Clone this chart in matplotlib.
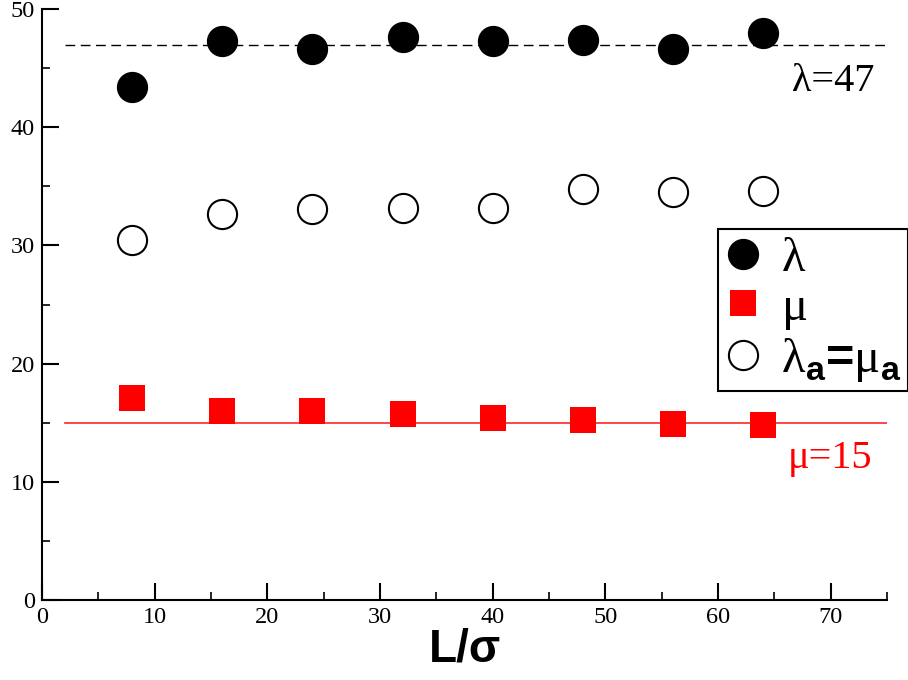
import matplotlib.pyplot as plt
from matplotlib.ticker import MultipleLocator

plt.rcParams['mathtext.fontset'] = 'custom'
plt.rcParams['mathtext.bf'] = 'Liberation Sans:bold'
plt.rcParams['mathtext.rm'] = 'Liberation Serif'

# Data
L_sigma = [8, 16, 24, 32, 40, 48, 56, 64]
lam = [43.4, 47.3, 46.6, 47.6, 47.3, 47.4, 46.6, 48.0]
mu = [17.1, 16.0, 16.0, 15.7, 15.4, 15.2, 14.9, 14.8]
lam_a = [30.5, 32.7, 33.1, 33.2, 33.2, 34.8, 34.5, 34.6]
lam_fit = 47
mu_fit = 15
fit_x = [2, 75]

fig = plt.figure(figsize=(9.08, 6.8), dpi=100)
ax = fig.add_axes([0.0463, 0.1176, 0.9306, 0.869])

# reference lines
ax.plot(fit_x, [lam_fit, lam_fit], color='black', lw=1.0, dashes=(7, 4))
ax.plot(fit_x, [mu_fit, mu_fit], color='red', lw=1.2, alpha=0.85)

h1, = ax.plot(L_sigma, lam, 'o', color='black', ms=21.5,
              label=r'$\mathrm{\lambda}$')
h2, = ax.plot(L_sigma, mu, 's', color='red', ms=19, mew=0,
              label=r'$\mathrm{\mu}$')
h3, = ax.plot(L_sigma, lam_a, 'o', mfc='white', mec='black', mew=1.5, ms=21,
              label=r'$\mathrm{\lambda}_\mathbf{a}$=$\mathrm{\mu}_\mathbf{a}$')

ax.text(73.9, 43.1, 'λ=47', ha='right', va='baseline',
        fontsize=29, family='Liberation Serif')
ax.text(73.7, 11.17, 'μ=15', ha='right', va='baseline', color='red',
        fontsize=29, family='Liberation Serif')

ax.set_xlim(0, 75)
ax.set_ylim(0, 50)
ax.xaxis.set_major_locator(MultipleLocator(10))
ax.xaxis.set_minor_locator(MultipleLocator(5))
ax.yaxis.set_major_locator(MultipleLocator(10))
ax.yaxis.set_minor_locator(MultipleLocator(5))

for s in ['top', 'right']:
    ax.spines[s].set_visible(False)
for s in ['left', 'bottom']:
    ax.spines[s].set_linewidth(1.5)

ax.tick_params(which='major', direction='in', length=12, width=1.5,
               labelsize=17.5, pad=5)
ax.tick_params(which='minor', direction='in', length=6, width=1.2)
for lbl in ax.get_xticklabels() + ax.get_yticklabels():
    lbl.set_family('Liberation Serif')

ax.set_xlabel('L/σ', fontsize=33, fontweight='bold',
              family='Liberation Sans', labelpad=0)

leg = fig.legend(handles=[h1, h2, h3], loc='upper left',
                 bbox_to_anchor=(718 / 908, 1 - 229 / 680),
                 prop={'family': 'Liberation Sans', 'weight': 'bold',
                       'size': 35},
                 frameon=True, fancybox=False, framealpha=1,
                 edgecolor='black', borderpad=0.15, handlelength=0.72,
                 handletextpad=0.42, labelspacing=0.08, borderaxespad=0)
leg.get_frame().set_linewidth(1.5)

fig.savefig('out.png', dpi=100)
